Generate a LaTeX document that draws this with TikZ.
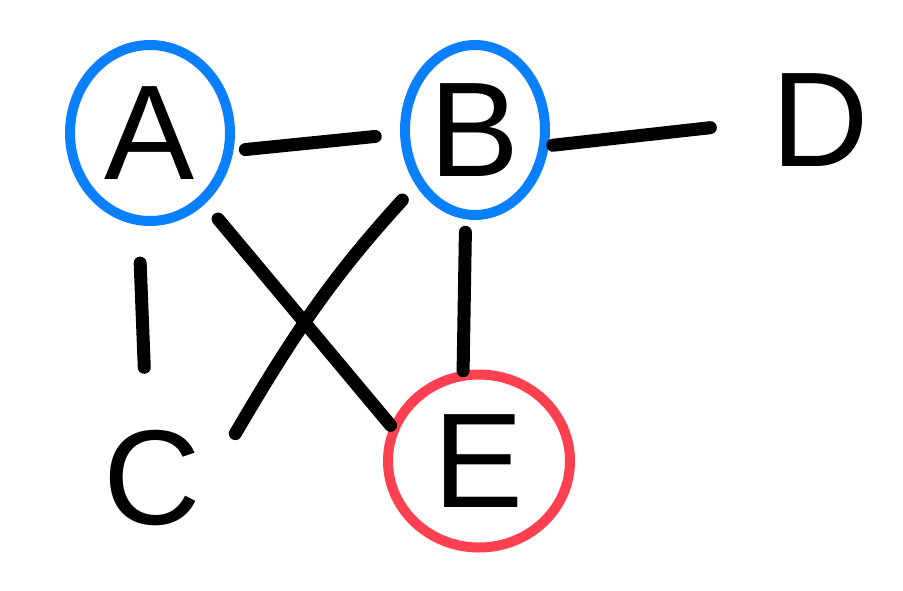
\documentclass[tikz,border=0pt]{standalone}
\usepackage{fontspec}
\setmainfont{Liberation Sans}
\usetikzlibrary{shapes.geometric}
\definecolor{vblue}{HTML}{0A80FF}
\definecolor{vred}{HTML}{FF4050}
\tikzset{
    vertex/.style={ellipse, inner sep=0pt, line width=10pt, font=\fontsize{135}{135}\selectfont},
    edge/.style={line width=13pt, line cap=round, black}
}
\begin{document}
\begin{tikzpicture}[x=1pt, y=-1pt]
    % 1. Khung
    \useasboundingbox (0,0) rectangle (903,590);

    % 2. Các đỉnh
    \node[vertex, draw=vblue, minimum width=160pt, minimum height=176pt] (A) at (150,133) {A};
    \node[vertex, draw=vblue, minimum width=140pt, minimum height=170pt] (B) at (475,130) {B};
    \node[vertex, minimum width=200pt, minimum height=212pt] (C) at (152,478) {C};
    \node[vertex, minimum width=210pt, minimum height=176pt] (D) at (820,120) {D};
    \node[vertex, draw=vred, minimum width=182pt, minimum height=173pt] (E) at (479,461) {E};

    % 3. Các cạnh
    \draw[edge, shorten <=12pt, shorten >=25pt] (A.-12) -- (B.183);
    \draw[edge, shorten <=4pt] (B.-12) -- (D.184);
    \draw[edge, shorten <=38pt] (A.-97) -- (C.94);
    \draw[edge, shorten <=20pt] (A.-52) -- (E.158);
    \draw[edge, shorten <=20pt, shorten >=-14pt] (B.223) to[bend right=6] (C.32);
    \draw[edge, shorten <=13pt] (B.-96) -- (E.100);

\end{tikzpicture}
\end{document}
